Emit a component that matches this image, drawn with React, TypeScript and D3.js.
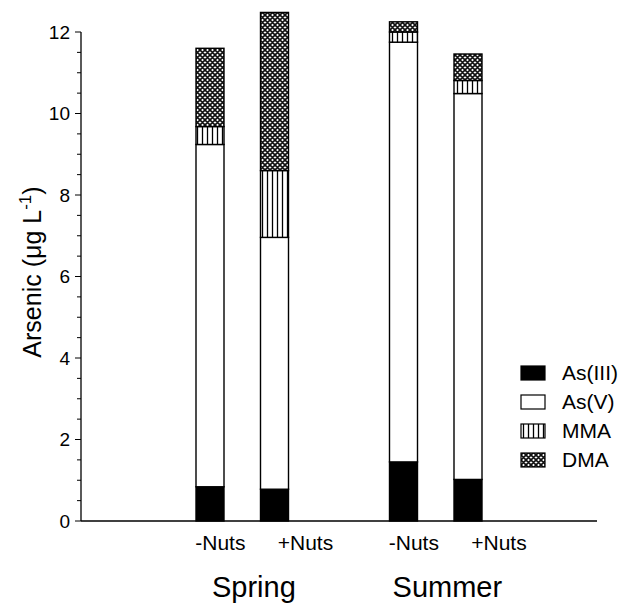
import React from "react";
import * as d3 from "d3";

const seasons = ["Spring", "Summer"];
const treatments = ["-Nuts", "+Nuts"];
const species = ["As(III)", "As(V)", "MMA", "DMA"];
// one value per bar: Spring -Nuts, Spring +Nuts, Summer -Nuts, Summer +Nuts
const asIII = [0.84, 0.78, 1.45, 1.02];
const asV = [8.4, 6.18, 10.3, 9.47];
const mma = [0.44, 1.64, 0.25, 0.32];
const dma = [1.92, 3.88, 0.25, 0.65];
const yTicks = [0, 2, 4, 6, 8, 10, 12];

const W = 623;
const H = 603;
const font = "'Liberation Sans', Arial, Helvetica, sans-serif";
const fills = ["#000", "#fff", "url(#mma)", "url(#dma)"];

const App = () => {
  const rows = asIII.map((v, i) => ({
    key: i,
    "As(III)": v,
    "As(V)": asV[i],
    MMA: mma[i],
    DMA: dma[i],
  }));
  const stacked = d3.stack<any>().keys(species)(rows);

  // 8 slots across the baseline, bars sit on slots 2,3 and 5,6
  const x = d3.scaleLinear().domain([0, 8]).range([81, 597]);
  const slot = (i: number) => Math.floor(i / 2) * 3 + (i % 2) + 2;
  const y = d3.scaleLinear().domain([0, 12]).range([521, 32]);
  const barW = 28;
  const minor = d3.range(0, 12.01, 0.5).filter((t) => t % 2 !== 0);

  return (
    <svg
      width={W}
      height={H}
      style={{ position: "absolute", left: 0, top: 0, background: "#fff" }}
      fontFamily={font}
    >
      <defs>
        <pattern id="mma" patternUnits="userSpaceOnUse" width={5} height={10}>
          <rect width={5} height={10} fill="#fff" />
          <line x1={2.5} x2={2.5} y1={0} y2={10} stroke="#000" strokeWidth={1.3} />
        </pattern>
        <pattern id="dma" patternUnits="userSpaceOnUse" width={5} height={5}>
          <rect width={5} height={5} fill="#fff" />
          <path
            d="M-1,-1L6,6M6,-1L-1,6M-1,4L1,6M4,-1L6,1M-1,1L1,-1M4,6L6,4"
            stroke="#111"
            strokeWidth={1.6}
          />
        </pattern>
      </defs>

      {/* y axis */}
      <line x1={x(0)} x2={x(0)} y1={y(12)} y2={y(0)} stroke="#000" strokeWidth={1.3} />
      {yTicks.map((t) => (
        <g key={t}>
          <line x1={x(0) - 6} x2={x(0)} y1={y(t)} y2={y(t)} stroke="#000" strokeWidth={1} />
          <text x={x(0) - 11} y={y(t)} dy="0.36em" textAnchor="end" fontSize={19}>
            {t}
          </text>
        </g>
      ))}
      {minor.map((t) => (
        <line key={t} x1={x(0) - 4} x2={x(0)} y1={y(t)} y2={y(t)} stroke="#000" strokeWidth={1} />
      ))}
      <text
        transform={`translate(41,${272}) rotate(-90)`}
        textAnchor="middle"
        fontSize={25}
      >
        Arsenic (μg L
        <tspan dy={-10} fontSize={17}>-1</tspan>
        <tspan dy={10}>)</tspan>
      </text>

      {/* bars */}
      {stacked.map((s, si) =>
        s.map((d, i) => (
          <rect
            key={`${si}-${i}`}
            x={x(slot(i)) - barW / 2}
            y={y(d[1])}
            width={barW}
            height={y(d[0]) - y(d[1])}
            fill={fills[si]}
            stroke="#000"
            strokeWidth={1.4}
          />
        ))
      )}

      {/* baseline */}
      <line x1={x(0)} x2={x(8)} y1={y(0)} y2={y(0)} stroke="#000" strokeWidth={1.4} />

      {/* x labels */}
      {asIII.map((_, i) => (
        <text
          key={i}
          x={x(slot(i) + (i % 2 === 0 ? 0.16 : 0.48))}
          y={550}
          textAnchor="middle"
          fontSize={21}
        >
          {treatments[i % 2]}
        </text>
      ))}
      {seasons.map((s, g) => (
        <text key={s} x={x(g * 3 + 2.68)} y={597} textAnchor="middle" fontSize={29}>
          {s}
        </text>
      ))}

      {/* legend */}
      {species.map((s, i) => (
        <g key={s} transform={`translate(521,${373 + i * 29})`}>
          <rect
            x={0}
            y={-7}
            width={24}
            height={14}
            fill={fills[i]}
            stroke="#000"
            strokeWidth={1.2}
          />
          <text x={41} y={0} dy="0.35em" fontSize={21}>
            {s}
          </text>
        </g>
      ))}
    </svg>
  );
};

export default App;
